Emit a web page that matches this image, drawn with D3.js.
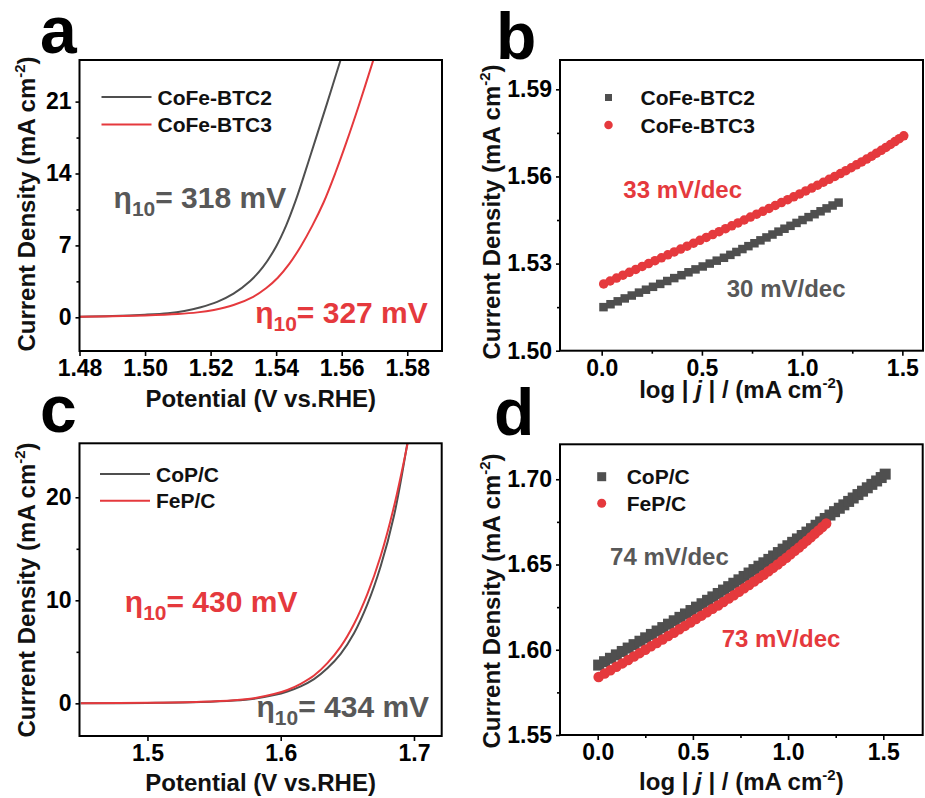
<!DOCTYPE html>
<html>
<head>
<meta charset="utf-8">
<script src="https://cdn.jsdelivr.net/npm/d3@7"></script>
<style>
  body { margin: 0; background: #fff; }
  svg { display: block; }
  text { font-family: "Liberation Sans", Arial, sans-serif; font-weight: bold; }
</style>
</head>
<body>
<svg id="fig" width="925" height="798"></svg>
<script>
// ---------- data ----------
// (a) LSV curves, [potential V vs RHE, current density mA cm-2]
const lsvBTC2 = [
  [1.480, 0.06], [1.490, 0.12], [1.500, 0.25], [1.507, 0.40], [1.512, 0.62],
  [1.517, 0.98], [1.522, 1.50], [1.527, 2.30], [1.532, 3.50], [1.536, 4.90],
  [1.540, 6.90], [1.543, 8.90], [1.546, 11.4], [1.549, 14.3], [1.552, 17.3],
  [1.5555, 20.8], [1.5597, 25.1]
];
const lsvBTC3 = [
  [1.480, 0.05], [1.490, 0.10], [1.500, 0.18], [1.510, 0.32], [1.516, 0.48],
  [1.521, 0.72], [1.527, 1.20], [1.533, 2.00], [1.537, 2.85], [1.5405, 3.85],
  [1.544, 5.20], [1.5475, 6.90], [1.551, 8.90], [1.5545, 11.2], [1.558, 14.0],
  [1.5615, 17.1], [1.5652, 20.6], [1.5697, 25.1]
];
// (b) Tafel plots, [log|j|, potential]
const tafelBTC2 = [
  [0.009, 1.515], [0.044, 1.516], [0.080, 1.517], [0.115, 1.518], [0.150, 1.519],
  [0.186, 1.520], [0.221, 1.521], [0.256, 1.522], [0.292, 1.523], [0.327, 1.524],
  [0.362, 1.525], [0.398, 1.526], [0.433, 1.527], [0.468, 1.528], [0.504, 1.529],
  [0.539, 1.530], [0.574, 1.531], [0.610, 1.532], [0.642, 1.533], [0.672, 1.534],
  [0.702, 1.535], [0.732, 1.536], [0.762, 1.537], [0.792, 1.538], [0.822, 1.539],
  [0.852, 1.540], [0.882, 1.541], [0.912, 1.542], [0.942, 1.543], [0.972, 1.544],
  [1.002, 1.545], [1.032, 1.546], [1.062, 1.547], [1.092, 1.548], [1.122, 1.549],
  [1.152, 1.550], [1.182, 1.551]
];
const tafelBTC3 = [
  [0.010, 1.523], [0.042, 1.524], [0.074, 1.525], [0.106, 1.526], [0.138, 1.527],
  [0.170, 1.528], [0.202, 1.529], [0.234, 1.530], [0.266, 1.531], [0.298, 1.532],
  [0.330, 1.533], [0.362, 1.534], [0.394, 1.535], [0.426, 1.536], [0.458, 1.537],
  [0.490, 1.538], [0.522, 1.539], [0.554, 1.540], [0.586, 1.541], [0.618, 1.542],
  [0.649, 1.543], [0.680, 1.544], [0.711, 1.545], [0.742, 1.546], [0.773, 1.547],
  [0.804, 1.548], [0.835, 1.549], [0.866, 1.550], [0.897, 1.551], [0.928, 1.552],
  [0.958, 1.553], [0.988, 1.554], [1.018, 1.555], [1.048, 1.556], [1.077, 1.557],
  [1.106, 1.558], [1.135, 1.559], [1.163, 1.560], [1.191, 1.561], [1.218, 1.562],
  [1.245, 1.563], [1.271, 1.564], [1.297, 1.565], [1.322, 1.566], [1.347, 1.567],
  [1.371, 1.568], [1.395, 1.569], [1.418, 1.570], [1.441, 1.571], [1.463, 1.572],
  [1.485, 1.573], [1.507, 1.574]
];
// (c) LSV curves
const lsvCoP = [
  [1.450, 0.0], [1.500, 0.04], [1.540, 0.12], [1.565, 0.27], [1.580, 0.45],
  [1.595, 0.80], [1.605, 1.15], [1.615, 1.65], [1.625, 2.35], [1.635, 3.40],
  [1.645, 4.80], [1.655, 6.80], [1.665, 9.60], [1.675, 13.3], [1.685, 18.2],
  [1.6952, 25.4]
];
const lsvFeP = [
  [1.450, 0.0], [1.500, 0.05], [1.540, 0.15], [1.565, 0.30], [1.580, 0.50],
  [1.595, 0.90], [1.605, 1.30], [1.615, 1.90], [1.625, 2.70], [1.635, 3.90],
  [1.645, 5.50], [1.655, 7.70], [1.665, 10.6], [1.675, 14.3], [1.685, 19.1],
  [1.6955, 25.4]
];
// (d) Tafel plots
const tafelCoP = [
  [0.005, 1.591], [0.036, 1.593], [0.067, 1.595], [0.098, 1.597], [0.129, 1.599],
  [0.160, 1.601], [0.191, 1.603], [0.222, 1.605], [0.252, 1.607], [0.282, 1.609],
  [0.312, 1.611], [0.342, 1.613], [0.372, 1.615], [0.402, 1.617], [0.432, 1.619],
  [0.461, 1.621], [0.490, 1.623], [0.519, 1.625], [0.548, 1.627], [0.577, 1.629],
  [0.605, 1.631], [0.633, 1.633], [0.661, 1.635], [0.688, 1.637], [0.715, 1.639],
  [0.742, 1.641], [0.769, 1.643], [0.795, 1.645], [0.821, 1.647], [0.847, 1.649],
  [0.873, 1.651], [0.899, 1.653], [0.924, 1.655], [0.949, 1.657], [0.974, 1.659],
  [0.999, 1.661], [1.024, 1.663], [1.049, 1.665], [1.074, 1.667], [1.099, 1.669],
  [1.123, 1.671], [1.147, 1.673], [1.171, 1.675], [1.195, 1.677], [1.220, 1.679],
  [1.244, 1.681], [1.269, 1.683], [1.293, 1.685], [1.318, 1.687], [1.342, 1.689],
  [1.367, 1.691], [1.391, 1.693], [1.416, 1.695], [1.440, 1.697], [1.465, 1.699],
  [1.489, 1.701], [1.510, 1.703]
];
const tafelFeP = [
  [0.005, 1.584], [0.036, 1.586], [0.067, 1.588], [0.098, 1.590], [0.129, 1.592],
  [0.160, 1.594], [0.190, 1.596], [0.220, 1.598], [0.250, 1.600], [0.280, 1.602],
  [0.310, 1.604], [0.340, 1.606], [0.370, 1.608], [0.400, 1.610], [0.429, 1.612],
  [0.458, 1.614], [0.487, 1.616], [0.516, 1.618], [0.545, 1.620], [0.574, 1.622],
  [0.603, 1.624], [0.632, 1.626], [0.660, 1.628], [0.688, 1.630], [0.715, 1.632],
  [0.742, 1.634], [0.769, 1.636], [0.795, 1.638], [0.821, 1.640], [0.847, 1.642],
  [0.872, 1.644], [0.897, 1.646], [0.921, 1.648], [0.945, 1.650], [0.968, 1.652],
  [0.991, 1.654], [1.013, 1.656], [1.035, 1.658], [1.057, 1.660], [1.078, 1.662],
  [1.099, 1.664], [1.120, 1.666], [1.140, 1.668], [1.160, 1.670], [1.180, 1.672],
  [1.200, 1.674]
];

// tick values
const ticksAx = [1.48, 1.50, 1.52, 1.54, 1.56, 1.58];
const ticksAy = [0, 7, 14, 21];
const minorAy = [3.5, 10.5, 17.5];
const ticksBx = [0.0, 0.5, 1.0, 1.5];
const minorBx = [0.25, 0.75, 1.25];
const ticksBy = [1.50, 1.53, 1.56, 1.59];
const minorBy = [1.515, 1.545, 1.575];
const ticksCx = [1.5, 1.6, 1.7];
const ticksCy = [0, 10, 20];
const minorCy = [5, 15];
const ticksDx = [0.0, 0.5, 1.0, 1.5];
const minorDx = [0.25, 0.75, 1.25];
const ticksDy = [1.55, 1.60, 1.65, 1.70];
const minorDy = [1.575, 1.625, 1.675];

// ---------- drawing ----------
const GRAY = "#4f4f4f", GRAY_TXT = "#585858", RED = "#e5393d";
const svg = d3.select("#fig");
svg.append("rect").attr("width", 925).attr("height", 798).attr("fill", "#fff");

let clipId = 0;

function panel(o) {
  const g = svg.append("g");
  const x = d3.scaleLinear().domain(o.xDomain).range([o.left, o.right]);
  const y = d3.scaleLinear().domain(o.yDomain).range([o.bottom, o.top]);

  const id = "clip" + (clipId++);
  g.append("clipPath").attr("id", id).append("rect")
    .attr("x", o.left).attr("y", o.top)
    .attr("width", o.right - o.left).attr("height", o.bottom - o.top);

  // axes
  g.append("g").attr("transform", `translate(0,${o.bottom})`)
    .call(d3.axisBottom(x).tickValues(o.xTicks).tickFormat(o.xFmt).tickSize(5).tickPadding(4));
  if (o.xMinor) {
    g.append("g").attr("transform", `translate(0,${o.bottom})`)
      .call(d3.axisBottom(x).tickValues(o.xMinor).tickFormat("").tickSize(3));
  }
  g.append("g").attr("transform", `translate(${o.left},0)`)
    .call(d3.axisLeft(y).tickValues(o.yTicks).tickFormat(o.yFmt).tickSize(4).tickPadding(4));
  if (o.yMinor) {
    g.append("g").attr("transform", `translate(${o.left},0)`)
      .call(d3.axisLeft(y).tickValues(o.yMinor).tickFormat("").tickSize(3));
  }
  g.selectAll(".domain").remove();
  g.selectAll(".tick line").attr("stroke", "#000").attr("stroke-width", 1.6);
  g.selectAll(".tick text").attr("fill", "#000").style("font-size", "23px")
    .style("font-family", '"Liberation Sans", Arial, sans-serif').style("font-weight", "bold");

  // series
  const plot = g.append("g").attr("clip-path", `url(#${id})`);
  (o.lines || []).forEach(s => {
    plot.append("path").datum(s.data)
      .attr("fill", "none").attr("stroke", s.color).attr("stroke-width", 2)
      .attr("d", d3.line().x(d => x(d[0])).y(d => y(d[1])).curve(d3.curveCatmullRom.alpha(0.5)));
  });
  (o.scatter || []).forEach(s => {
    if (s.shape === "square") {
      plot.selectAll(null).data(s.data).enter().append("rect")
        .attr("x", d => x(d[0]) - s.size / 2).attr("y", d => y(d[1]) - s.size / 2)
        .attr("width", s.size).attr("height", s.size).attr("fill", s.color);
    } else {
      plot.selectAll(null).data(s.data).enter().append("circle")
        .attr("cx", d => x(d[0])).attr("cy", d => y(d[1])).attr("r", s.size / 2)
        .attr("fill", s.color);
    }
  });

  // frame
  g.append("rect").attr("x", o.left).attr("y", o.top)
    .attr("width", o.right - o.left).attr("height", o.bottom - o.top)
    .attr("fill", "none").attr("stroke", "#000").attr("stroke-width", 2);

  // legend
  o.legend.forEach((L, i) => {
    const ly = o.top + o.legendTop + i * o.legendGap;
    const lx = o.left + o.legendLeft;
    if (L.type === "line") {
      g.append("line").attr("x1", lx).attr("x2", lx + 50).attr("y1", ly).attr("y2", ly)
        .attr("stroke", L.color).attr("stroke-width", 2);
      g.append("text").attr("x", lx + 56).attr("y", ly + 7.5).style("font-size", "21px")
        .attr("fill", "#111").text(L.label);
    } else {
      if (L.type === "square") {
        g.append("rect").attr("x", lx - L.size / 2).attr("y", ly - L.size / 2)
          .attr("width", L.size).attr("height", L.size).attr("fill", L.color);
      } else {
        g.append("circle").attr("cx", lx).attr("cy", ly).attr("r", L.size / 2).attr("fill", L.color);
      }
      g.append("text").attr("x", lx + L.textGap).attr("y", ly + 7.5).style("font-size", "21px")
        .attr("fill", "#111").text(L.label);
    }
  });

  // annotations placed in data coordinates
  (o.notes || []).forEach(n => {
    const t = g.append("text").attr("x", x(n.at[0])).attr("y", y(n.at[1])).attr("fill", n.color);
    if (n.eta) {
      t.append("tspan").style("font-size", "30px").text("η");
      t.append("tspan").style("font-size", "21px").attr("dy", 8).text("10");
      t.append("tspan").style("font-size", "30px").attr("dy", -8).text("= " + n.text);
    } else {
      t.style("font-size", "24px").text(n.text);
    }
  });

  // axis titles
  const xt = g.append("text").attr("x", (o.left + o.right) / 2)
    .attr("y", o.xTitleY).attr("text-anchor", "middle").style("font-size", "24px").attr("fill", "#111");
  o.xTitle(xt);
  const yt = g.append("text")
    .attr("transform", `translate(${o.yTitleX},${o.yTitleCY}) rotate(-90)`)
    .attr("text-anchor", "middle").style("font-size", "24px").attr("fill", "#111");
  yt.append("tspan").text("Current Density (mA cm");
  yt.append("tspan").style("font-size", "15px").attr("dy", -10).text("-2");
  yt.append("tspan").attr("dy", 10).text(")");

  // panel letter
  g.append("text").attr("x", o.letterX).attr("y", o.letterY).style("font-size", "66px")
    .attr("fill", "#000").text(o.letter);
}

function potentialTitle(t) { t.text("Potential (V vs.RHE)"); }
function tafelTitle(t) {
  t.append("tspan").text("log | ");
  t.append("tspan").style("font-style", "italic").text("j");
  t.append("tspan").text(" | / (mA cm");
  t.append("tspan").style("font-size", "15px").attr("dy", -10).text("-2");
  t.append("tspan").attr("dy", 10).text(")");
}

// (a)
panel({
  letter: "a", letterX: 40, letterY: 53,
  left: 79.5, right: 442, top: 60, bottom: 351,
  xDomain: [1.48, 1.5906], yDomain: [-3.28, 25.05],
  xTicks: ticksAx, xFmt: d3.format(".2f"),
  yTicks: ticksAy, yMinor: minorAy, yFmt: d3.format("d"),
  lines: [{ data: lsvBTC2, color: GRAY }, { data: lsvBTC3, color: RED }],
  legend: [
    { type: "line", color: GRAY, label: "CoFe-BTC2" },
    { type: "line", color: RED, label: "CoFe-BTC3" }
  ],
  legendLeft: 22, legendTop: 37, legendGap: 27.5,
  notes: [
    { eta: true, text: "318 mV", at: [1.4904, 10.6], color: GRAY_TXT },
    { eta: true, text: "327 mV", at: [1.5336, -0.58], color: RED }
  ],
  xTitle: potentialTitle, xTitleY: 407,
  yTitleX: 35, yTitleCY: 204
});

// (b)
panel({
  letter: "b", letterX: 496, letterY: 59,
  left: 560, right: 923, top: 60, bottom: 350.7,
  xDomain: [-0.208, 1.603], yDomain: [1.50, 1.6001],
  xTicks: ticksBx, xMinor: minorBx, xFmt: d3.format(".1f"),
  yTicks: ticksBy, yMinor: minorBy, yFmt: d3.format(".2f"),
  scatter: [
    { data: tafelBTC2, color: GRAY, shape: "square", size: 8.5 },
    { data: tafelBTC3, color: RED, shape: "circle", size: 9.5 }
  ],
  legend: [
    { type: "square", color: GRAY, size: 7, label: "CoFe-BTC2", textGap: 32 },
    { type: "circle", color: RED, size: 8.5, label: "CoFe-BTC3", textGap: 32 }
  ],
  legendLeft: 48.5, legendTop: 37.5, legendGap: 27.5,
  notes: [
    { text: "33 mV/dec", at: [0.108, 1.5525], color: RED },
    { text: "30 mV/dec", at: [0.624, 1.5186], color: GRAY_TXT }
  ],
  xTitle: tafelTitle, xTitleY: 398,
  yTitleX: 500, yTitleCY: 212
});

// (c)
panel({
  letter: "c", letterX: 40, letterY: 432,
  left: 79.5, right: 441.7, top: 443.3, bottom: 736,
  xDomain: [1.449, 1.7208], yDomain: [-3.17, 25.24],
  xTicks: ticksCx, xFmt: d3.format(".1f"),
  yTicks: ticksCy, yMinor: minorCy, yFmt: d3.format("d"),
  lines: [{ data: lsvCoP, color: GRAY }, { data: lsvFeP, color: RED }],
  legend: [
    { type: "line", color: GRAY, label: "CoP/C" },
    { type: "line", color: RED, label: "FeP/C" }
  ],
  legendLeft: 20.5, legendTop: 30.7, legendGap: 26.7,
  notes: [
    { eta: true, text: "430 mV", at: [1.483, 8.9], color: RED },
    { eta: true, text: "434 mV", at: [1.5818, -1.3], color: GRAY_TXT }
  ],
  xTitle: potentialTitle, xTitleY: 791,
  yTitleX: 35, yTitleCY: 590
});

// (d)
panel({
  letter: "d", letterX: 494, letterY: 435,
  left: 560, right: 922.7, top: 444.3, bottom: 735,
  xDomain: [-0.198, 1.707], yDomain: [1.55, 1.7205],
  xTicks: ticksDx, xMinor: minorDx, xFmt: d3.format(".1f"),
  yTicks: ticksDy, yMinor: minorDy, yFmt: d3.format(".2f"),
  scatter: [
    { data: tafelCoP, color: GRAY, shape: "square", size: 11 },
    { data: tafelFeP, color: RED, shape: "circle", size: 10.5 }
  ],
  legend: [
    { type: "square", color: GRAY, size: 9, label: "CoP/C", textGap: 25 },
    { type: "circle", color: RED, size: 9, label: "FeP/C", textGap: 25 }
  ],
  legendLeft: 41.7, legendTop: 32.4, legendGap: 26.6,
  notes: [
    { text: "74 mV/dec", at: [0.065, 1.6498], color: GRAY_TXT },
    { text: "73 mV/dec", at: [0.651, 1.6018], color: RED }
  ],
  xTitle: tafelTitle, xTitleY: 790,
  yTitleX: 500, yTitleCY: 601
});
</script>
</body>
</html>
